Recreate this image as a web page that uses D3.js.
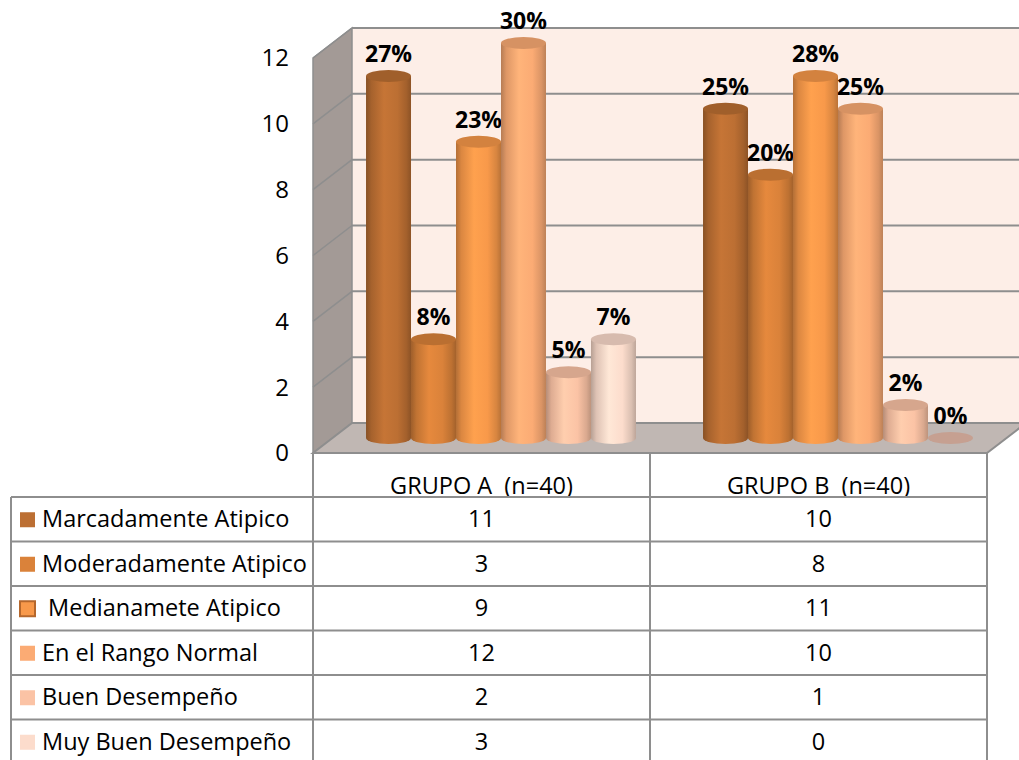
<!DOCTYPE html>
<html>
<head>
<meta charset="utf-8">
<script src="https://cdn.jsdelivr.net/npm/d3@7/dist/d3.min.js"></script>
<style>
  body { margin: 0; background: #ffffff; }
  svg { display: block; font-family: "Open Sans", "Noto Sans", sans-serif; }
</style>
</head>
<body>
<div id="chart"></div>
<script>
// Chart data
let groups = ["GRUPO A  (n=40)", "GRUPO B  (n=40)"];
let seriesNames = [
    "Marcadamente Atipico",
    "Moderadamente Atipico",
    " Medianamete Atipico",
    "En el Rango Normal",
    "Buen Desempeño",
    "Muy Buen Desempeño"
];
let grupoA = [11, 3, 9, 12, 2, 3];
let grupoB = [10, 8, 11, 10, 1, 0];
let pctA = ["27%", "8%", "23%", "30%", "5%", "7%"];
let pctB = ["25%", "20%", "28%", "25%", "2%", "0%"];
let yTicks = [0, 2, 4, 6, 8, 10, 12];
let seriesColors = ["#bc6f33", "#da823a", "#f8994a", "#fbab74", "#fbc3a5", "#fcdccc"];

let width = 1019,
    height = 760;
// 3D depth of the box (back wall sits up and to the right of the front plane)
let depth = {dx: 39, dy: -30};
let gridColor = "#8e8e8e";
let textSize = 23.5;

let svg = d3.select("#chart")
    .append("svg")
    .attr("width", width)
    .attr("height", height);

let defs = svg.append("defs");

let y = d3.scaleLinear().domain([0, 12]).range([453, 58]);
let xGroup = d3.scaleBand().domain(groups).range([313, 987]);
let xSeries = d3.scaleBand().domain(seriesNames)
    .range([0, xGroup.bandwidth()])
    .paddingInner(0)
    .paddingOuter(0.745);

drawWalls();
drawBars();
drawTable();

/**
 * Draws the left wall, back wall, floor and the gridlines of the 3D box.
 */
function drawWalls() {
    let x0 = xGroup.range()[0],
        x1 = xGroup.range()[1];
    let yTop = y(12),
        yBot = y(0);

    // back wall
    svg.append("polygon")
        .attr("points", [
            [x0 + depth.dx, yTop + depth.dy], [width + 10, yTop + depth.dy],
            [width + 10, yBot + depth.dy], [x0 + depth.dx, yBot + depth.dy]
        ].join(" "))
        .attr("fill", "#fdeee7");

    // left wall
    svg.append("polygon")
        .attr("points", [
            [x0, yTop], [x0 + depth.dx, yTop + depth.dy],
            [x0 + depth.dx, yBot + depth.dy], [x0, yBot]
        ].join(" "))
        .attr("fill", "#a39a96")
        .attr("stroke", gridColor)
        .attr("stroke-width", 1.5);

    // gridlines on back wall and left wall
    yTicks.filter(d => d > 0).forEach(function(v) {
        svg.append("line")
            .attr("x1", x0 + depth.dx).attr("x2", width + 10)
            .attr("y1", y(v) + depth.dy).attr("y2", y(v) + depth.dy)
            .attr("stroke", gridColor)
            .attr("stroke-width", 2);
        svg.append("line")
            .attr("x1", x0).attr("x2", x0 + depth.dx)
            .attr("y1", y(v)).attr("y2", y(v) + depth.dy)
            .attr("stroke", gridColor)
            .attr("stroke-width", 1.5);
    });

    // floor
    svg.append("polygon")
        .attr("points", [
            [x0, yBot], [x0 + depth.dx, yBot + depth.dy],
            [x1 + depth.dx, yBot + depth.dy], [x1, yBot]
        ].join(" "))
        .attr("fill", "#c0b7b3")
        .attr("stroke", gridColor)
        .attr("stroke-width", 2);

    // y tick labels, on the front plane
    svg.selectAll("text.ytick")
        .data(yTicks)
        .enter()
        .append("text")
            .attr("class", "ytick")
            .attr("x", 289)
            .attr("y", d => y(d))
            .attr("dy", "0.35em")
            .attr("text-anchor", "end")
            .attr("font-size", 24)
            .attr("fill", "#000")
            .text(d => d);
}

/**
 * Builds the horizontal shading gradient that makes each bar look like a cylinder.
 */
function makeGradient(i) {
    let base = d3.color(seriesColors[i]);
    let g = defs.append("linearGradient")
        .attr("id", "cyl" + i)
        .attr("x1", "0%").attr("x2", "100%")
        .attr("y1", "0%").attr("y2", "0%");
    let stops = [
        [0, base.darker(0.9)],
        [0.12, base.darker(0.35)],
        [0.4, base.brighter(0.15)],
        [0.7, base],
        [0.9, base.darker(0.4)],
        [1, base.darker(0.8)]
    ];
    stops.forEach(function(s) {
        g.append("stop").attr("offset", s[0]).attr("stop-color", s[1].formatHex());
    });
}

/**
 * Draws the cylinders and their percentage labels.
 */
function drawBars() {
    seriesNames.forEach((s, i) => makeGradient(i));
    let ry = 6;
    let values = [grupoA, grupoB];
    let labels = [pctA, pctB];

    groups.forEach(function(grp, gi) {
        let gEl = svg.append("g").attr("class", "barGroup");
        seriesNames.forEach(function(s, i) {
            let v = values[gi][i];
            let w = xSeries.bandwidth();
            let x0 = xGroup(grp) + xSeries(s) + depth.dx / 2;
            let cx = x0 + w / 2;
            let yTop = y(v) + depth.dy / 2;
            let yBot = y(0) + depth.dy / 2;
            let topColor = d3.color(seriesColors[i]).darker(0.45).formatHex();

            if (v > 0) {
                gEl.append("path")
                    .attr("d", "M" + x0 + "," + yTop +
                        " L" + x0 + "," + yBot +
                        " A" + (w / 2) + "," + ry + " 0 0 0 " + (x0 + w) + "," + yBot +
                        " L" + (x0 + w) + "," + yTop + " Z")
                    .attr("fill", "url(#cyl" + i + ")");
                gEl.append("ellipse")
                    .attr("cx", cx).attr("cy", yTop)
                    .attr("rx", w / 2).attr("ry", ry)
                    .attr("fill", topColor);
            } else {
                // a zero value only leaves a flat disc on the floor
                gEl.append("ellipse")
                    .attr("cx", cx).attr("cy", yTop)
                    .attr("rx", w / 2).attr("ry", ry)
                    .attr("fill", "#c79a88")
                    .attr("opacity", 0.8);
            }

            gEl.append("text")
                .attr("x", cx)
                .attr("y", yTop - ry - 8)
                .attr("text-anchor", "middle")
                .attr("font-size", 23)
                .attr("font-weight", "bold")
                .attr("fill", "#000")
                .text(labels[gi][i]);
        });
    });
}

/**
 * Draws the data table under the chart, with the legend keys in the first column.
 */
function drawTable() {
    let left = 11,
        headerTop = y(0),
        rowTop = 497,
        rowH = 44.5;
    let colEdges = [xGroup.range()[0], xGroup.range()[0] + xGroup.bandwidth(), xGroup.range()[1]];
    let bottom = rowTop + rowH * seriesNames.length;
    let t = svg.append("g").attr("class", "table");

    // header text
    t.selectAll("text.header")
        .data(groups)
        .enter()
        .append("text")
            .attr("class", "header")
            .attr("x", d => xGroup(d) + xGroup.bandwidth() / 2)
            .attr("y", rowTop - 3)
            .attr("text-anchor", "middle")
            .attr("font-size", textSize)
            .style("white-space", "pre")
            .text(d => d);

    // vertical lines
    colEdges.forEach(function(x) {
        t.append("line")
            .attr("x1", x).attr("x2", x)
            .attr("y1", headerTop).attr("y2", bottom)
            .attr("stroke", gridColor).attr("stroke-width", 2);
    });
    t.append("line")
        .attr("x1", left).attr("x2", left)
        .attr("y1", rowTop).attr("y2", bottom)
        .attr("stroke", gridColor).attr("stroke-width", 2);

    // horizontal lines
    d3.range(seriesNames.length + 1).forEach(function(r) {
        t.append("line")
            .attr("x1", left).attr("x2", colEdges[2])
            .attr("y1", rowTop + r * rowH).attr("y2", rowTop + r * rowH)
            .attr("stroke", gridColor).attr("stroke-width", 2);
    });

    let rows = t.selectAll("g.row")
        .data(seriesNames)
        .enter()
        .append("g")
            .attr("class", "row")
            .attr("transform", (d, i) => "translate(0," + (rowTop + i * rowH + rowH / 2) + ")");

    // legend keys
    rows.append("rect")
        .attr("x", 20)
        .attr("y", -7)
        .attr("width", 15)
        .attr("height", 15)
        .attr("fill", (d, i) => seriesColors[i])
        .attr("stroke", (d, i) => i === 2 ? "#b5672c" : "none")
        .attr("stroke-width", 2);

    rows.append("text")
        .attr("x", 42)
        .attr("dy", "0.35em")
        .attr("font-size", textSize)
        .style("white-space", "pre")
        .text(d => d);

    rows.append("text")
        .attr("x", xGroup(groups[0]) + xGroup.bandwidth() / 2)
        .attr("dy", "0.35em")
        .attr("text-anchor", "middle")
        .attr("font-size", textSize)
        .text((d, i) => grupoA[i]);

    rows.append("text")
        .attr("x", xGroup(groups[1]) + xGroup.bandwidth() / 2)
        .attr("dy", "0.35em")
        .attr("text-anchor", "middle")
        .attr("font-size", textSize)
        .text((d, i) => grupoB[i]);
}
</script>
</body>
</html>
